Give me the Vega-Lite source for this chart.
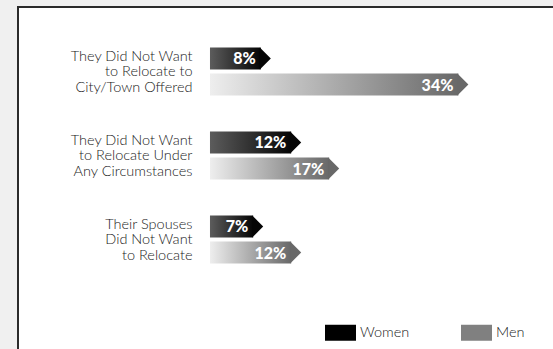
{
  "$schema": "https://vega.github.io/schema/vega-lite/v6.json",
  "autosize": "none",
  "padding": {"left": 18, "top": 7, "right": 0, "bottom": 0},
  "width": 540,
  "height": 345,
  "background": "#f0f0f0",
  "config": {
    "view": {"stroke": "#2b2b2b", "strokeWidth": 2, "fill": "white"}
  },
  "data": {
    "values": [
      {"reason": "They Did Not Want|to Relocate to|City/Town Offered", "series": "Women", "value": 8, "label": "8%"},
      {"reason": "They Did Not Want|to Relocate to|City/Town Offered", "series": "Men", "value": 34, "label": "34%"},
      {"reason": "They Did Not Want|to Relocate Under|Any Circumstances", "series": "Women", "value": 12, "label": "12%"},
      {"reason": "They Did Not Want|to Relocate Under|Any Circumstances", "series": "Men", "value": 17, "label": "17%"},
      {"reason": "Their Spouses|Did Not Want|to Relocate", "series": "Women", "value": 7, "label": "7%"},
      {"reason": "Their Spouses|Did Not Want|to Relocate", "series": "Men", "value": 12, "label": "12%"}
    ]
  },
  "encoding": {
    "y": {
      "field": "reason", "type": "nominal", "sort": null,
      "scale": {"range": [22.5, 274.5], "paddingInner": 0, "paddingOuter": 0},
      "axis": {
        "title": null, "orient": "left", "offset": -174, "domain": false, "ticks": false,
        "labelPadding": 0, "labelAlign": "right", "labelBaseline": "middle",
        "labelExpr": "split(datum.label, '|')", "labelOffset": -15,
        "labelFont": "Lato", "labelFontWeight": 300, "labelFontSize": 14.5, "labelColor": "#1a1a1a",
        "labelLineHeight": 15.5, "labelLimit": 300
      }
    },
    "yOffset": {
      "field": "series", "type": "nominal",
      "scale": {"domain": ["Women", "Men"], "paddingInner": 0.154, "paddingOuter": 0.692}
    },
    "x": {
      "field": "value", "type": "quantitative",
      "scale": {"domain": [-25.26, 45.79], "nice": false, "zero": false},
      "axis": null
    }
  },
  "layer": [
    {
      "transform": [{"filter": "datum.series === 'Women'"}],
      "mark": {
        "type": "bar", "xOffset": -10,
        "color": {"gradient": "linear", "x1": 0, "x2": 1, "y1": 0, "y2": 0,
          "stops": [{"offset": 0, "color": "#5c5c5c"}, {"offset": 1, "color": "#050505"}]}
      },
      "encoding": {"x2": {"datum": 0}}
    },
    {
      "transform": [{"filter": "datum.series === 'Men'"}],
      "mark": {
        "type": "bar", "xOffset": -10,
        "color": {"gradient": "linear", "x1": 0, "x2": 1, "y1": 0, "y2": 0,
          "stops": [{"offset": 0, "color": "#eeeeee"}, {"offset": 1, "color": "#686868"}]}
      },
      "encoding": {"x2": {"datum": 0}}
    },
    {
      "mark": {"type": "point", "shape": "M -1 -1 L 0 0 L -1 1 Z", "size": 484, "filled": true, "strokeWidth": 0, "opacity": 1},
      "encoding": {
        "color": {
          "condition": {"test": "datum.series === 'Women'", "value": "#050505"},
          "value": "#686868"
        }
      }
    },
    {
      "mark": {"type": "text", "align": "right", "baseline": "middle", "dx": -15, "dy": 1,
        "color": "white", "font": "Lato", "fontWeight": 900, "fontSize": 16},
      "encoding": {"text": {"field": "label"}}
    },
    {
      "mark": {"type": "point", "filled": true, "opacity": 0},
      "encoding": {
        "color": {
          "field": "series", "type": "nominal",
          "scale": {"domain": ["Women", "Men"], "range": ["#000000", "#808080"]},
          "legend": {
            "orient": "none", "legendX": 307, "legendY": 310, "direction": "horizontal",
            "title": null, "symbolType": "M -1 -0.516 H 1 V 0.516 H -1 Z", "symbolSize": 961,
            "symbolStrokeWidth": 0, "symbolOpacity": 1, "labelFont": "Lato", "labelFontWeight": 300,
            "labelFontSize": 14.5,
            "labelColor": "#1a1a1a", "labelOffset": 4, "columnPadding": 51, "padding": 0
          }
        }
      }
    }
  ]
}
